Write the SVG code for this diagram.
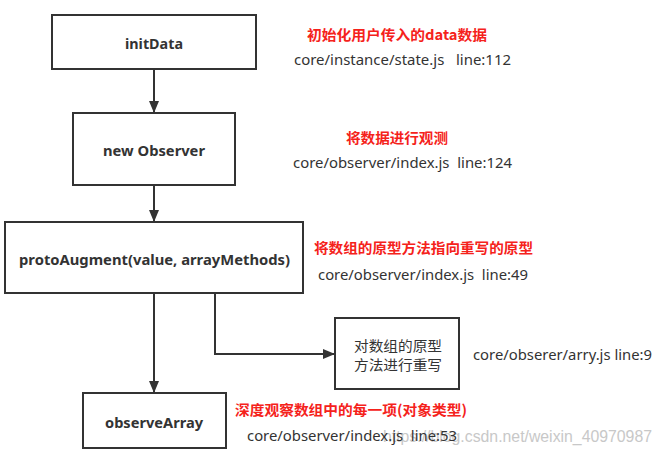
<svg xmlns="http://www.w3.org/2000/svg" width="662" height="455" viewBox="0 0 662 455">
<style>
.box{fill:#fff;stroke:#333;stroke-width:2}
.lbl{font-family:"Noto Sans","Noto Sans CJK SC",sans-serif;font-weight:bold;font-size:14px;fill:#333;text-anchor:middle}
.red{font-family:"Noto Sans CJK SC","Noto Sans",sans-serif;font-weight:bold;font-size:14px;fill:#f5221b}
.path{font-family:"Noto Sans","Noto Sans CJK SC",sans-serif;font-size:14px;fill:#333;white-space:pre}
.cn{font-family:"Noto Sans CJK SC",sans-serif;font-size:14px;fill:#333;text-anchor:middle}
.wm{font-family:"Liberation Sans",Arial,sans-serif;font-size:16px;fill:#c8c8c8}
.conn{fill:none;stroke:#333;stroke-width:2}
</style>
<defs>
<marker id="arr" viewBox="0 0 12 10" refX="12" refY="5" markerWidth="12" markerHeight="10" markerUnits="userSpaceOnUse" orient="auto">
<path d="M0,0 L12,5 L0,10 Z" fill="#333"/>
</marker>
</defs>
<rect width="662" height="455" fill="#fff"/>
<text class="wm" x="383" y="442" textLength="269" lengthAdjust="spacingAndGlyphs">https://blog.csdn.net/weixin_40970987</text>
<g id="connectors">
<line class="conn" x1="154" y1="69" x2="154" y2="113" marker-end="url(#arr)"/>
<line class="conn" x1="154" y1="185" x2="154" y2="222" marker-end="url(#arr)"/>
<line class="conn" x1="154" y1="293" x2="154" y2="393" marker-end="url(#arr)"/>
<polyline class="conn" points="215,293 215,354 335,354" marker-end="url(#arr)"/>
</g>
<g id="initData">
<rect class="box" x="52" y="15" width="204" height="54"/>
<text class="lbl" x="154" y="49" textLength="58" lengthAdjust="spacingAndGlyphs">initData</text>
</g>
<g id="newObserver">
<rect class="box" x="73" y="113" width="162" height="72"/>
<text class="lbl" x="154" y="156" textLength="102" lengthAdjust="spacingAndGlyphs">new Observer</text>
</g>
<g id="protoAugment">
<rect class="box" x="5" y="222" width="298" height="71"/>
<text class="lbl" x="154.5" y="265" textLength="271" lengthAdjust="spacingAndGlyphs">protoAugment(value, arrayMethods)</text>
</g>
<g id="observeArray">
<rect class="box" x="83" y="393" width="143" height="55"/>
<text class="lbl" x="154" y="428" textLength="98" lengthAdjust="spacingAndGlyphs">observeArray</text>
</g>
<g id="rewrite">
<rect class="box" x="335" y="318" width="124" height="71"/>
<text class="cn" x="398" y="351" textLength="88" lengthAdjust="spacingAndGlyphs">对数组的原型</text>
<text class="cn" x="398" y="370" textLength="88" lengthAdjust="spacingAndGlyphs">方法进行重写</text>
</g>
<g id="notes">
<text class="red" x="307" y="40" textLength="180" lengthAdjust="spacingAndGlyphs">初始化用户传入的data数据</text>
<text class="path" x="294" y="65" textLength="217" lengthAdjust="spacingAndGlyphs">core/instance/state.js   line:112</text>
<text class="red" x="346" y="143" textLength="102" lengthAdjust="spacingAndGlyphs">将数据进行观测</text>
<text class="path" x="293" y="168" textLength="219" lengthAdjust="spacingAndGlyphs">core/observer/index.js  line:124</text>
<text class="red" x="314" y="253" textLength="219" lengthAdjust="spacingAndGlyphs">将数组的原型方法指向重写的原型</text>
<text class="path" x="318" y="280" textLength="210" lengthAdjust="spacingAndGlyphs">core/observer/index.js  line:49</text>
<text class="path" x="473" y="360" textLength="179" lengthAdjust="spacingAndGlyphs">core/obserer/arry.js line:9</text>
<text class="red" x="235" y="415" textLength="232" lengthAdjust="spacingAndGlyphs">深度观察数组中的每一项(对象类型)</text>
<text class="path" x="247" y="441" textLength="210" lengthAdjust="spacingAndGlyphs">core/observer/index.js  line:53</text>
</g>
</svg>
